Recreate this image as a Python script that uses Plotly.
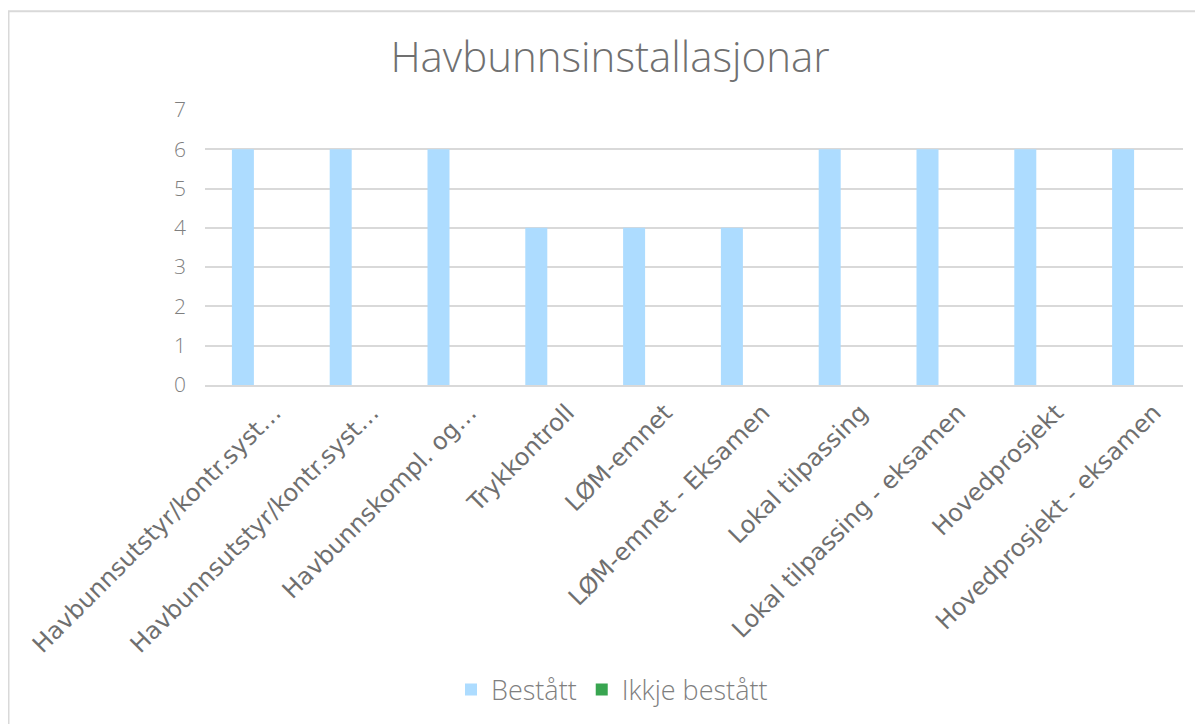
import plotly.graph_objects as go

categories = [
    "Havbunnsutstyr/kontr.syst…",
    "Havbunnsutstyr/kontr.syst…",
    "Havbunnskompl. og…",
    "Trykkontroll",
    "LØM-emnet",
    "LØM-emnet - Eksamen",
    "Lokal tilpassing",
    "Lokal tilpassing - eksamen",
    "Hovedprosjekt",
    "Hovedprosjekt - eksamen",
]
bestatt = [6, 6, 6, 4, 4, 4, 6, 6, 6, 6]
ikkje_bestatt = [0, 0, 0, 0, 0, 0, 0, 0, 0, 0]
y_ticks = [0, 1, 2, 3, 4, 5, 6, 7]

x_idx = list(range(len(categories)))

fig = go.Figure()
fig.add_trace(go.Bar(name="Bestått", x=x_idx, y=bestatt, marker_color="#ADDCFF", marker_line_width=0))
fig.add_trace(go.Bar(name="Ikkje bestått", x=x_idx, y=ikkje_bestatt, marker_color="#38A550", marker_line_width=0))

OFF = 8  # page body margin
W, H = 1203 - OFF, 724 - OFF
L, R, T = 205 - OFF, 20, 110 - OFF
B = H - (386 - OFF)
pw, ph = W - L - R, H - T - B
y0px = 386 - OFF  # page y of zero line in figure coords

def py(ypage):
    return (y0px - (ypage - OFF)) / ph

fig.update_layout(
    width=W, height=H,
    margin=dict(l=L, r=R, t=T, b=B),
    paper_bgcolor="white", plot_bgcolor="white",
    barmode="group", bargap=0.55, bargroupgap=0,
    title=dict(text="Havbunnsinstallasjonar", x=(610 - OFF) / W, xanchor="center",
               y=1 - (57 - OFF) / H, yanchor="middle",
               font=dict(family="Open Sans", weight=300, size=42, color="#707070")),
    legend=dict(orientation="h", x=(612 - OFF - L) / pw, xanchor="center", y=py(690), yanchor="middle",
                font=dict(family="Open Sans", weight=300, size=27, color="#7f7f7f"),
                itemwidth=30, traceorder="normal"),
    xaxis=dict(tickmode="array", tickvals=x_idx, ticktext=categories, tickangle=-45,
               range=[-0.5, len(categories) - 0.5],
               tickfont=dict(family="DejaVu Sans", size=24, color="#6f6f6f"),
               ticklabelshift=20, ticklabelstandoff=2,
               showgrid=False, showline=True, linecolor="#d9d9d9", linewidth=2, ticks=""),
    yaxis=dict(range=[0, 7], tickmode="array", tickvals=y_ticks,
               tickfont=dict(family="Open Sans", weight=300, size=21, color="#7f7f7f"),
               showgrid=True, gridcolor="#d9d9d9", gridwidth=2, zeroline=False, ticks="", ticklabelstandoff=18),
    shapes=[dict(type="rect", xref="paper", yref="paper",
                 x0=(0.5 - L) / pw, x1=(W + 20 - L) / pw, y0=py(760), y1=py(11),
                 line=dict(color="#d9d9d9", width=2), fillcolor="rgba(0,0,0,0)", layer="below")],
)

fig.write_html("out.html")
